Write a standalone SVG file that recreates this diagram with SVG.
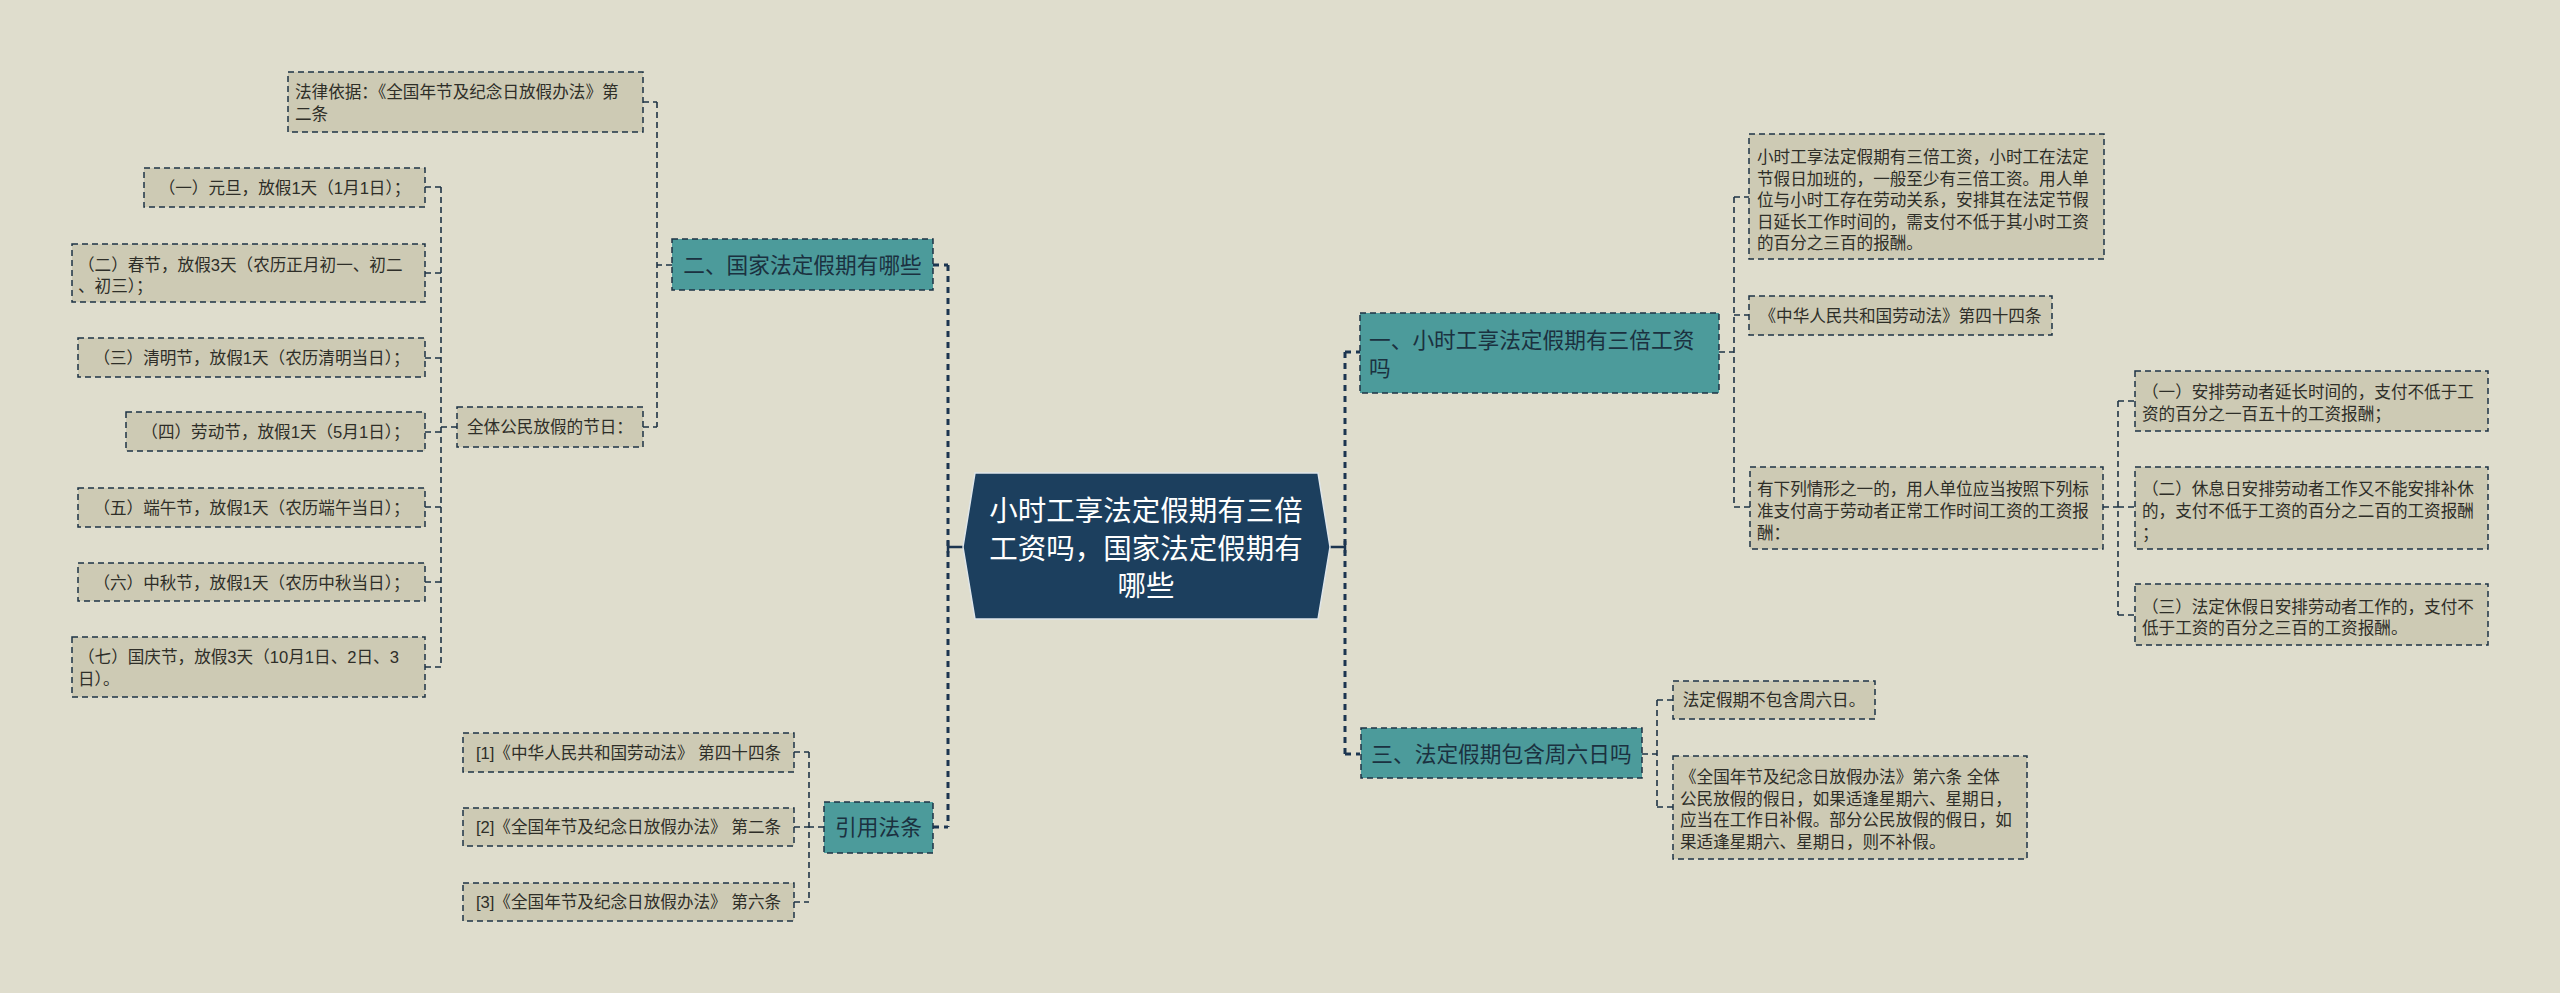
<svg xmlns="http://www.w3.org/2000/svg" width="2560" height="993" viewBox="0 0 2560 993">
<style>
text{font-family:"Liberation Sans","Noto Sans CJK SC",sans-serif;}
.leaf{fill:#cdcab4;stroke:#1e3345;stroke-width:1.5;stroke-dasharray:6 4;}
.main{fill:#4c9b9b;stroke:#1e3345;stroke-width:1.5;stroke-dasharray:6 4;}
.lt{font-size:16.6px;fill:#2e2e28;}
.mt{font-size:21.7px;fill:#1b3140;}
.rt{font-size:28.5px;fill:#ffffff;}
.c{text-anchor:middle;}
.thin{fill:none;stroke:#1e3345;stroke-width:1.6;stroke-dasharray:6 4;}
.thick{fill:none;stroke:#1c3550;stroke-width:3;stroke-dasharray:6 5;}
.solid{fill:none;stroke:#1c3550;stroke-width:2.5;}
</style>
<rect x="0" y="0" width="2560" height="993" fill="#dfddcd"/>

<g id="connectors">
  <!-- root to left branches -->
  <path class="solid" d="M963 547 H948 M948 541 V553"/>
  <path class="thick" d="M948 265 V827"/>
  <path class="thick" d="M933 265 H948 M933 827 H948"/>
  <!-- root to right branches -->
  <path class="solid" d="M1330 547 H1345 M1345 541 V553"/>
  <path class="thick" d="M1345 352 V754"/>
  <path class="thick" d="M1345 352 H1360 M1345 754 H1360"/>
  <!-- branch 二 -->
  <path class="thin" d="M672 265 H657 M657 102 V427 M643 102 H657 M643 427 H657"/>
  <!-- 全体公民 children -->
  <path class="thin" d="M457 427 H441 M441 187 V667 M425 187 H441 M425 273 H441 M425 358 H441 M425 432 H441 M425 507 H441 M425 582 H441 M425 667 H441"/>
  <!-- 引用法条 -->
  <path class="thin" d="M824 827 H809 M809 752 V902 M794 752 H809 M794 827 H809 M794 902 H809"/>
  <!-- 一 -->
  <path class="thin" d="M1719 352 H1734 M1734 197 V507 M1734 197 H1749 M1734 315 H1749 M1734 507 H1750"/>
  <path class="thin" d="M2103 507 H2118 M2118 401 V615 M2118 401 H2135 M2118 507 H2135 M2118 615 H2135"/>
  <!-- 三 -->
  <path class="thin" d="M1642 754 H1657 M1657 700 V807 M1657 700 H1673 M1657 807 H1673"/>
</g>

<g id="root">
  <polygon points="963,547 975,473 1318,473 1330,547 1318,619 975,619" fill="#1c3f5e" stroke="#dfe6ea" stroke-width="1.5"/>
  <text class="rt c" x="1146" y="521">小时工享法定假期有三倍</text>
  <text class="rt c" x="1146" y="559">工资吗，国家法定假期有</text>
  <text class="rt c" x="1146" y="596">哪些</text>
</g>

<g id="n2">
  <rect class="main" x="672" y="239" width="261" height="51"/>
  <text class="mt c" x="802.5" y="273">二、国家法定假期有哪些</text>
</g>
<g id="n2-basis">
  <rect class="leaf" x="288" y="72" width="355" height="60"/>
  <text class="lt" x="295" y="98">法律依据：《全国年节及纪念日放假办法》第</text>
  <text class="lt" x="295" y="119.5">二条</text>
</g>
<g id="n2-all">
  <rect class="leaf" x="457" y="407" width="186" height="40"/>
  <text class="lt c" x="550" y="433">全体公民放假的节日：</text>
</g>
<g id="h1">
  <rect class="leaf" x="144" y="168" width="281" height="39"/>
  <text class="lt c" x="284.5" y="193.5">（一）元旦，放假1天（1月1日）；</text>
</g>
<g id="h2">
  <rect class="leaf" x="72" y="244" width="353" height="58"/>
  <text class="lt" x="78" y="271">（二）春节，放假3天（农历正月初一、初二</text>
  <text class="lt" x="78" y="292">、初三）；</text>
</g>
<g id="h3">
  <rect class="leaf" x="78" y="338" width="347" height="39"/>
  <text class="lt c" x="251.5" y="364">（三）清明节，放假1天（农历清明当日）；</text>
</g>
<g id="h4">
  <rect class="leaf" x="126" y="412" width="299" height="39"/>
  <text class="lt c" x="275.5" y="438">（四）劳动节，放假1天（5月1日）；</text>
</g>
<g id="h5">
  <rect class="leaf" x="78" y="488" width="347" height="39"/>
  <text class="lt c" x="251.5" y="513.5">（五）端午节，放假1天（农历端午当日）；</text>
</g>
<g id="h6">
  <rect class="leaf" x="78" y="563" width="347" height="38"/>
  <text class="lt c" x="251.5" y="588.5">（六）中秋节，放假1天（农历中秋当日）；</text>
</g>
<g id="h7">
  <rect class="leaf" x="72" y="637" width="353" height="60"/>
  <text class="lt" x="78" y="663">（七）国庆节，放假3天（10月1日、2日、3</text>
  <text class="lt" x="78" y="684.5">日）。</text>
</g>

<g id="refs">
  <rect class="main" x="824" y="802" width="109" height="51"/>
  <text class="mt c" x="878.5" y="835">引用法条</text>
</g>
<g id="ref1">
  <rect class="leaf" x="463" y="733" width="331" height="39"/>
  <text class="lt c" x="628.5" y="758.5">[1]《中华人民共和国劳动法》 第四十四条</text>
</g>
<g id="ref2">
  <rect class="leaf" x="463" y="808" width="331" height="38"/>
  <text class="lt c" x="628.5" y="833">[2]《全国年节及纪念日放假办法》 第二条</text>
</g>
<g id="ref3">
  <rect class="leaf" x="463" y="883" width="331" height="38"/>
  <text class="lt c" x="628.5" y="908">[3]《全国年节及纪念日放假办法》 第六条</text>
</g>

<g id="n1">
  <rect class="main" x="1360" y="313" width="359" height="80"/>
  <text class="mt" x="1369" y="348">一、小时工享法定假期有三倍工资</text>
  <text class="mt" x="1369" y="376">吗</text>
</g>
<g id="n1-a">
  <rect class="leaf" x="1749" y="134" width="355" height="125"/>
  <text class="lt" x="1757" y="163">小时工享法定假期有三倍工资，小时工在法定</text>
  <text class="lt" x="1757" y="184.6">节假日加班的，一般至少有三倍工资。用人单</text>
  <text class="lt" x="1757" y="206.2">位与小时工存在劳动关系，安排其在法定节假</text>
  <text class="lt" x="1757" y="227.8">日延长工作时间的，需支付不低于其小时工资</text>
  <text class="lt" x="1757" y="249.4">的百分之三百的报酬。</text>
</g>
<g id="n1-b">
  <rect class="leaf" x="1749" y="296" width="303" height="39"/>
  <text class="lt c" x="1900.5" y="321.5">《中华人民共和国劳动法》第四十四条</text>
</g>
<g id="n1-c">
  <rect class="leaf" x="1750" y="467" width="353" height="82"/>
  <text class="lt" x="1757" y="494.5">有下列情形之一的，用人单位应当按照下列标</text>
  <text class="lt" x="1757" y="516.5">准支付高于劳动者正常工作时间工资的工资报</text>
  <text class="lt" x="1757" y="538.5">酬：</text>
</g>
<g id="n1-c1">
  <rect class="leaf" x="2135" y="371" width="353" height="60"/>
  <text class="lt" x="2142" y="398">（一）安排劳动者延长时间的，支付不低于工</text>
  <text class="lt" x="2142" y="419.5">资的百分之一百五十的工资报酬；</text>
</g>
<g id="n1-c2">
  <rect class="leaf" x="2135" y="467" width="353" height="82"/>
  <text class="lt" x="2142" y="494.5">（二）休息日安排劳动者工作又不能安排补休</text>
  <text class="lt" x="2142" y="516.5">的，支付不低于工资的百分之二百的工资报酬</text>
  <text class="lt" x="2142" y="538.5">；</text>
</g>
<g id="n1-c3">
  <rect class="leaf" x="2135" y="584" width="353" height="61"/>
  <text class="lt" x="2142" y="613">（三）法定休假日安排劳动者工作的，支付不</text>
  <text class="lt" x="2142" y="634">低于工资的百分之三百的工资报酬。</text>
</g>

<g id="n3">
  <rect class="main" x="1361" y="728" width="281" height="50"/>
  <text class="mt c" x="1501.5" y="762">三、法定假期包含周六日吗</text>
</g>
<g id="n3-a">
  <rect class="leaf" x="1673" y="681" width="202" height="38"/>
  <text class="lt c" x="1774" y="706">法定假期不包含周六日。</text>
</g>
<g id="n3-b">
  <rect class="leaf" x="1673" y="756" width="354" height="103"/>
  <text class="lt" x="1680" y="783">《全国年节及纪念日放假办法》第六条 全体</text>
  <text class="lt" x="1680" y="804.5">公民放假的假日，如果适逢星期六、星期日，</text>
  <text class="lt" x="1680" y="826">应当在工作日补假。部分公民放假的假日，如</text>
  <text class="lt" x="1680" y="847.5">果适逢星期六、星期日，则不补假。</text>
</g>
</svg>
